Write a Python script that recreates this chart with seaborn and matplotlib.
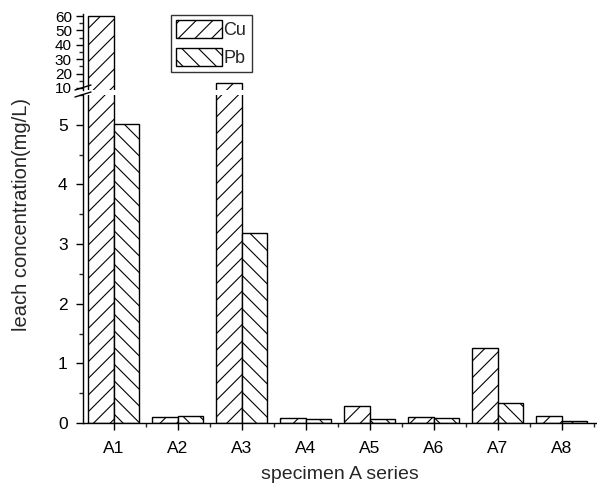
import numpy as np
import pandas as pd
import seaborn as sns
import matplotlib.pyplot as plt
from matplotlib.patches import Patch
from matplotlib.lines import Line2D
from matplotlib.ticker import MultipleLocator

specimens = ['A1', 'A2', 'A3', 'A4', 'A5', 'A6', 'A7', 'A8']
cu = [60.0, 0.10, 13.5, 0.08, 0.29, 0.10, 1.26, 0.11]
pb = [5.02, 0.12, 3.18, 0.07, 0.07, 0.08, 0.33, 0.04]
metals = ['Cu', 'Pb']
hatches = {'Cu': '//', 'Pb': '\\\\'}

df = pd.DataFrame({
    'specimen': specimens * 2,
    'metal': ['Cu'] * len(specimens) + ['Pb'] * len(specimens),
    'conc': cu + pb,
})

sns.set_style('ticks')
plt.rcParams['font.family'] = ['Liberation Sans', 'DejaVu Sans']
plt.rcParams['hatch.linewidth'] = 0.8

fig = plt.figure(figsize=(5.97, 4.87), dpi=100)
W, H = 597, 487
left, right = 83 / W, 597 / W
ax_lo = fig.add_axes([left, 1 - 423 / H, right - left, (423 - 95) / H])
ax_hi = fig.add_axes([left, 1 - 90 / H, right - left, (90 - 14) / H])

for ax in (ax_lo, ax_hi):
    sns.barplot(data=df, x='specimen', y='conc', hue='metal', hue_order=metals,
                order=specimens, ax=ax, color='white', edgecolor='black',
                linewidth=1.0, width=0.8, legend=False, saturation=1)
    for cont, m in zip(ax.containers, metals):
        for bar in cont:
            bar.set_facecolor('white')
            bar.set_hatch(hatches[m])
    ax.set_xlim(-0.48, 7.55)
    ax.spines['top'].set_visible(False)
    ax.spines['right'].set_visible(False)
    ax.tick_params(direction='out', labelsize=12.5, width=1, length=5,
                   colors='black', pad=6)
    ax.tick_params(which='minor', direction='out', width=1, length=3)
    for s in ('left', 'bottom'):
        ax.spines[s].set_linewidth(1.0)
        ax.spines[s].set_color('black')
    ax.set_ylabel('')
    ax.set_xlabel('')

ax_lo.set_ylim(0, 5.5)
ax_lo.yaxis.set_major_locator(MultipleLocator(1))
ax_lo.yaxis.set_minor_locator(MultipleLocator(0.5))
ax_lo.xaxis.set_minor_locator(MultipleLocator(1, offset=0.5))
ax_lo.tick_params(axis='x', pad=8)
ax_lo.set_xlabel('specimen A series', fontsize=14, labelpad=7)

ax_hi.set_ylim(8.6, 61.4)
ax_hi.set_yticks([10, 20, 30, 40, 50, 60])
ax_hi.yaxis.set_minor_locator(MultipleLocator(5))
ax_hi.spines['bottom'].set_visible(False)
ax_hi.tick_params(axis='x', which='both', bottom=False, labelbottom=False)
ax_hi.tick_params(axis='y', pad=3, labelsize=11)

fig.text(22 / W, 1 - 215 / H, 'leach concentration(mg/L)', rotation=90,
         fontsize=14.5, ha='center', va='center')

# axis break marks
for y0 in (90, 97):
    fig.add_artist(Line2D([75 / W, 91 / W], [1 - y0 / H, 1 - (y0 - 5) / H],
                          color='black', lw=1.0))

handles = [Patch(facecolor='white', edgecolor='black', hatch=hatches[m], label=m)
           for m in metals]
fig.legend(handles=handles, loc='upper left', bbox_to_anchor=(171 / W, 1 - 15 / H),
           frameon=True, fancybox=False, edgecolor='black', fontsize=13,
           handlelength=2.5, handleheight=1.1, handletextpad=0.1,
           borderpad=0.3, labelspacing=0.5, borderaxespad=0)

fig.savefig('out.png', dpi=100)
